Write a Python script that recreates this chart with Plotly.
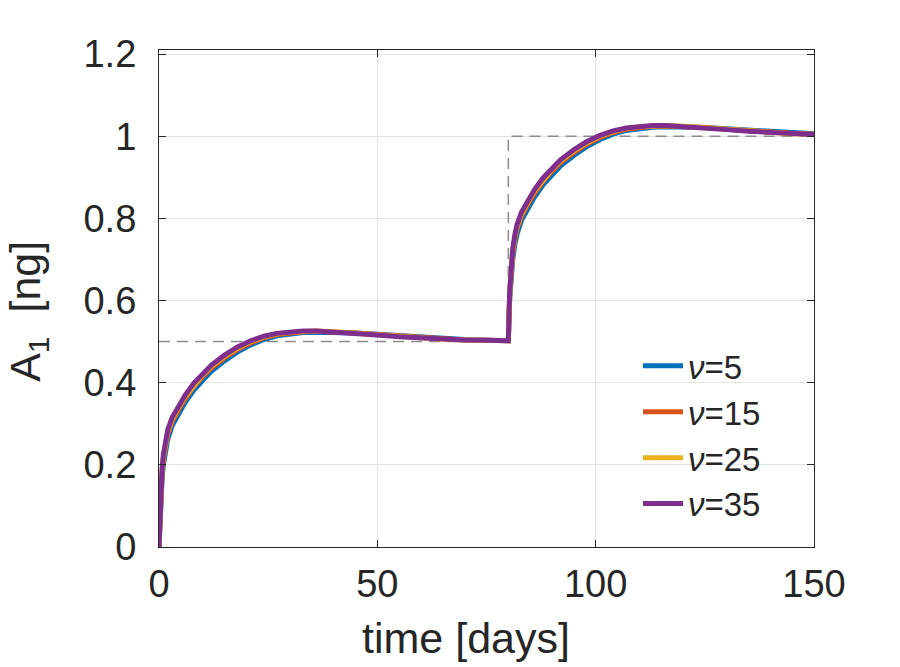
import plotly.graph_objects as go

# ---------------- data ----------------
time_days = [0, 0.3, 0.7, 1, 1.5, 2, 3, 4, 5, 6, 8, 10, 12, 15, 18, 21, 24, 27, 30, 33,
             36, 40, 45, 50, 55, 60, 65, 70, 75, 80,
             80.3, 80.7, 81, 81.5, 82, 83, 84, 85, 86, 88, 90, 92, 95, 98, 101, 104, 107,
             110, 113, 116, 120, 125, 130, 135, 140, 145, 150]

a1_nu5 = [0, 0.10, 0.165, 0.20, 0.238, 0.262, 0.295, 0.316, 0.335, 0.352, 0.382, 0.407,
          0.428, 0.453, 0.475, 0.492, 0.505, 0.514, 0.519, 0.522, 0.523, 0.523, 0.521,
          0.518, 0.514, 0.511, 0.508, 0.505, 0.503, 0.502,
          0.60, 0.665, 0.70, 0.737, 0.762, 0.795, 0.816, 0.835, 0.852, 0.882, 0.907,
          0.928, 0.953, 0.975, 0.992, 1.005, 1.014, 1.019, 1.022, 1.023, 1.023, 1.021,
          1.018, 1.015, 1.012, 1.009, 1.006]

a1_nu15 = [0, 0.11, 0.178, 0.213, 0.249, 0.274, 0.305, 0.326, 0.344, 0.361, 0.391, 0.415,
           0.436, 0.460, 0.481, 0.497, 0.509, 0.517, 0.522, 0.524, 0.525, 0.524, 0.521,
           0.517, 0.513, 0.510, 0.507, 0.504, 0.503, 0.502,
           0.61, 0.678, 0.713, 0.749, 0.774, 0.805, 0.826, 0.844, 0.861, 0.891, 0.915,
           0.936, 0.960, 0.981, 0.997, 1.009, 1.017, 1.022, 1.024, 1.025, 1.024, 1.021,
           1.017, 1.013, 1.010, 1.007, 1.005]

a1_nu25 = [0, 0.115, 0.185, 0.219, 0.255, 0.280, 0.310, 0.331, 0.349, 0.366, 0.395, 0.419,
           0.440, 0.464, 0.484, 0.500, 0.511, 0.519, 0.523, 0.525, 0.526, 0.524, 0.520,
           0.516, 0.512, 0.509, 0.506, 0.504, 0.503, 0.502,
           0.615, 0.684, 0.719, 0.755, 0.780, 0.810, 0.831, 0.849, 0.866, 0.895, 0.919,
           0.940, 0.964, 0.984, 1.000, 1.011, 1.019, 1.023, 1.025, 1.026, 1.024, 1.020,
           1.016, 1.012, 1.009, 1.006, 1.004]

a1_nu35 = [0, 0.12, 0.19, 0.225, 0.26, 0.285, 0.315, 0.335, 0.353, 0.370, 0.399, 0.423,
           0.443, 0.467, 0.487, 0.502, 0.513, 0.520, 0.524, 0.526, 0.526, 0.524, 0.520,
           0.516, 0.512, 0.509, 0.506, 0.504, 0.503, 0.502,
           0.62, 0.69, 0.725, 0.76, 0.785, 0.815, 0.835, 0.853, 0.870, 0.899, 0.923,
           0.943, 0.967, 0.987, 1.002, 1.013, 1.020, 1.024, 1.026, 1.026, 1.024, 1.020,
           1.016, 1.012, 1.009, 1.006, 1.004]

target_t = [0, 80, 80, 150]
target_v = [0.5, 0.5, 1.0, 1.0]

series_names = ["<i>ν</i>=5", "<i>ν</i>=15", "<i>ν</i>=25", "<i>ν</i>=35"]
series_values = [a1_nu5, a1_nu15, a1_nu25, a1_nu35]
series_colors = ["#0072BD", "#D95319", "#EDB120", "#7E2F8E"]

x_ticks = [0, 50, 100, 150]
x_ticktext = ["0", "50", "100", "150"]
y_ticks = [0, 0.2, 0.4, 0.6, 0.8, 1.0, 1.2]
y_ticktext = ["0", "0.2", "0.4", "0.6", "0.8", "1", "1.2"]

# ---------------- figure ----------------
FONT = "Liberation Sans, Arial, Helvetica, sans-serif"
TXT = "#262626"

fig = go.Figure()

fig.add_trace(go.Scatter(x=target_t, y=target_v, mode="lines",
                         line=dict(color="#8c8c8c", width=1.5, dash="11px,7px"),
                         showlegend=False, hoverinfo="skip"))

for i, (name, vals, col) in enumerate(zip(series_names, series_values, series_colors)):
    fig.add_trace(go.Scatter(x=time_days, y=vals, mode="lines", name=name,
                             legendgroup=f"g{i}",
                             line=dict(color=col, width=5)))

axis_common = dict(
    showline=True, linecolor=TXT, linewidth=1.2, mirror="ticks",
    ticks="inside", ticklen=7, tickwidth=1.2, tickcolor=TXT,
    showgrid=True, gridcolor="#e4e4e4", gridwidth=1,
    zeroline=False,
    tickfont=dict(family=FONT, size=38, color=TXT),
)

fig.update_xaxes(range=[0, 150], tickvals=x_ticks, ticktext=x_ticktext,
                 ticklabelstandoff=3, **axis_common)
fig.update_yaxes(range=[0, 1.2098], tickvals=y_ticks, ticktext=y_ticktext,
                 ticklabelstandoff=14, **axis_common)

fig.add_annotation(text="time [days]", xref="paper", yref="paper",
                   x=(466 - 159) / 655, y=-(638 - 546.7) / 496,
                   xanchor="center", yanchor="middle", showarrow=False,
                   font=dict(family=FONT, size=43, color=TXT))
fig.add_annotation(text="A<sub>1</sub>  [ng]", xref="paper", yref="paper",
                   x=-(159 - 28) / 655, y=(546.7 - 312) / 496, textangle=-90,
                   xanchor="center", yanchor="middle", showarrow=False,
                   font=dict(family=FONT, size=43, color=TXT))

fig.update_layout(
    width=900, height=667,
    margin=dict(l=159, r=86, t=50, b=120),
    paper_bgcolor="white", plot_bgcolor="white",
    showlegend=True,
    legend=dict(x=(638 - 159) / 655, y=(546.7 - 338) / 496, xanchor="left", yanchor="top",
                bgcolor="rgba(0,0,0,0)", borderwidth=0,
                font=dict(family=FONT, size=33, color=TXT),
                tracegroupgap=0, itemwidth=40),
)

fig.write_html("out.html")
